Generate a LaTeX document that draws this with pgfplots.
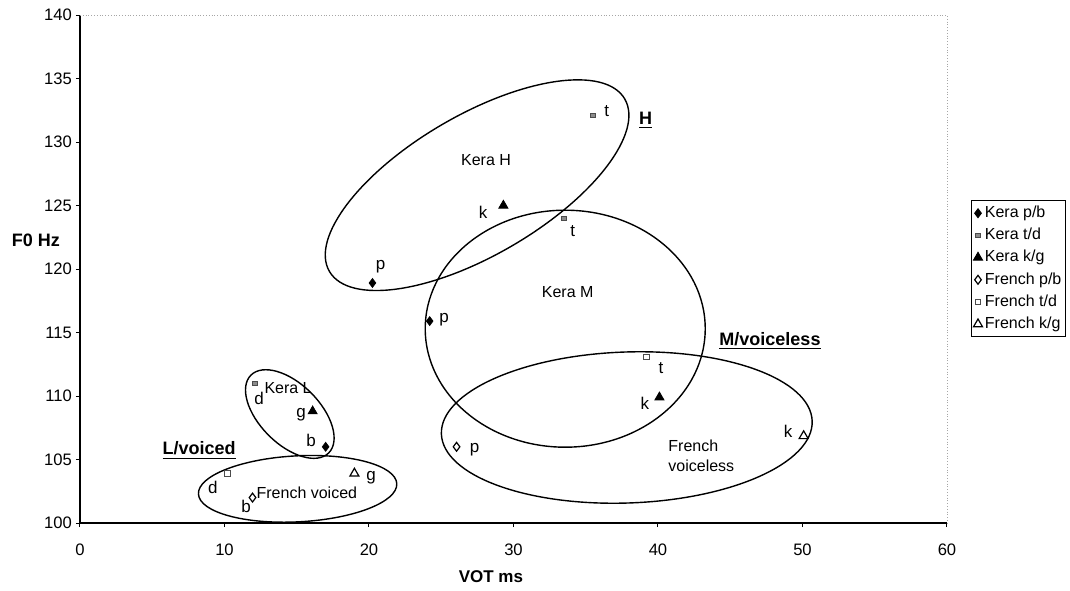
\documentclass[border=0pt]{standalone}
\usepackage{pgfplots}
\pgfplotsset{compat=1.18}
\usepackage{fontspec}
\setmainfont{Liberation Sans}
\usetikzlibrary{shapes.geometric}

\begin{document}
\begin{tikzpicture}
\begin{axis}[
  scale only axis, width=433.5pt, height=254pt,
  xmin=0, xmax=60, ymin=100, ymax=140,
  xtick={0,10,...,60}, ytick={100,105,...,140},
  axis x line*=bottom, axis y line*=left,
  axis line style={line width=0.6pt, -},
  tick align=outside, major tick length=2pt,
  tick style={black, line width=0.5pt},
  tick label style={font=\fontsize{8.3}{10}\selectfont},
  xticklabel style={yshift=-5pt},
  yticklabel style={xshift=1.5pt},
  /pgf/number format/assume math mode=true,
  clip=false,
  legend style={at={(1.0277,0.6358)}, anchor=north west,
    font=\fontsize{8}{9.6}\selectfont, draw=black, line width=0.5pt,
    inner xsep=1pt, inner ysep=1.5pt, row sep=1.4pt,
    nodes={inner sep=1.2pt}},
  legend cell align=left,
  legend image post style={line width=0.5pt},
]
% Kera p/b
\addplot[only marks, mark=diamond*, mark size=2.2pt, black] coordinates {(20.24,118.9) (24.2,115.9) (17.0,106.0)};
\addlegendentry{Kera p/b}
% Kera t/d
\addplot[only marks, mark=square*, mark size=1.1pt, draw=black!70, fill=black!45] coordinates {(35.5,132.1) (33.5,124.0) (12.1,111.0)};
\addlegendentry{Kera t/d}
% Kera k/g
\addplot[only marks, mark=triangle*, mark size=2.6pt, black] coordinates {(29.3,125.0) (40.1,109.9) (16.1,108.8)};
\addlegendentry{Kera k/g}
% French p/b
\addplot[only marks, mark=diamond, mark size=2.2pt, black, mark options={line width=0.6pt}] coordinates {(26.06,106.0) (11.94,102.0)};
\addlegendentry{French p/b}
% French t/d
\addplot[only marks, mark=square, mark size=1.3pt, black!70, mark options={line width=0.4pt}] coordinates {(10.2,103.9) (39.2,113.1)};
\addlegendentry{French t/d}
% French k/g
\addplot[only marks, mark=triangle, mark size=2.6pt, black, mark options={line width=0.6pt}] coordinates {(18.99,103.9) (50.08,106.85)};
\addlegendentry{French k/g}

% top / right faint frame
\draw[black!35, densely dotted, line width=0.4pt] (rel axis cs:0,1) -- (rel axis cs:1,1) -- (rel axis cs:1,0);

% ellipses
\node[draw, ellipse, line width=0.7pt, inner sep=0pt, minimum width=171pt, minimum height=70pt, rotate=30.3] at (axis cs:27.48,126.6) {};
\node[draw, ellipse, line width=0.7pt, inner sep=0pt, minimum width=140pt, minimum height=118.5pt] at (axis cs:33.58,115.3) {};
\node[draw, ellipse, line width=0.7pt, inner sep=0pt, minimum width=185.5pt, minimum height=75.5pt, rotate=2] at (axis cs:37.84,107.52) {};
\node[draw, ellipse, line width=0.7pt, inner sep=0pt, minimum width=55pt, minimum height=30pt, rotate=-45] at (axis cs:14.52,108.58) {};
\node[draw, ellipse, line width=0.7pt, inner sep=0pt, minimum width=99.3pt, minimum height=33pt, rotate=3] at (axis cs:15.06,102.69) {};

% group annotations
\begin{scope}[every node/.style={font=\fontsize{8}{10}\selectfont, inner sep=0pt}]
\node at (axis cs:28.1,128.6) {Kera H};
\node at (axis cs:33.75,118.2) {Kera M};
\node at (axis cs:14.4,110.6) {Kera L};
\node at (axis cs:15.7,102.4) {French voiced};
\node[align=left] at (axis cs:43.0,105.3) {French\\voiceless};
\end{scope}
% point labels
\begin{scope}[every node/.style={font=\fontsize{8.5}{10}\selectfont, inner sep=0pt}]
\node at (axis cs:20.8,120.2) {p};
\node at (axis cs:25.2,116.0) {p};
\node at (axis cs:27.9,124.5) {k};
\node at (axis cs:36.45,132.4) {t};
\node at (axis cs:34.1,123.0) {t};
\node at (axis cs:40.2,112.2) {t};
\node at (axis cs:39.1,109.4) {k};
\node at (axis cs:27.3,105.8) {p};
\node at (axis cs:49.0,107.2) {k};
\node at (axis cs:12.4,109.8) {d};
\node at (axis cs:15.3,108.5) {g};
\node at (axis cs:16.0,106.5) {b};
\node at (axis cs:9.2,102.8) {d};
\node at (axis cs:11.5,101.3) {b};
\node at (axis cs:20.15,103.6) {g};
\end{scope}
\begin{scope}[every node/.style={font=\fontsize{9}{11}\selectfont\bfseries, inner sep=0pt}]
\node at (axis cs:39.15,131.7) {\underline{H}};
\node at (axis cs:47.75,114.3) {\underline{M/voiceless}};
\node at (axis cs:8.25,105.7) {\underline{L/voiced}};
\end{scope}
% axis titles
\node[font=\fontsize{9}{11}\selectfont\bfseries] at (rel axis cs:-0.0508,0.557) {F0 Hz};
\node[font=\fontsize{8.5}{10}\selectfont\bfseries] at (rel axis cs:0.474,-0.106) {VOT ms};
\end{axis}
\pgfresetboundingbox
\path[use as bounding box] (-40pt,-33.5pt) rectangle (495pt,261.5pt);
\end{tikzpicture}
\end{document}
